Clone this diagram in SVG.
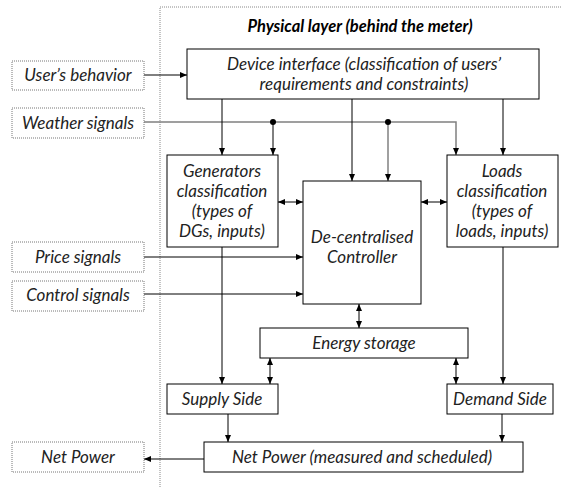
<svg xmlns="http://www.w3.org/2000/svg" width="561" height="487" viewBox="0 0 561 487">
<style>
  text { font-family: Lato, "Liberation Sans", sans-serif; font-style: italic; font-size: 17px; fill: #222; text-anchor: middle; }
  .title { font-weight: bold; font-size: 16.5px; fill: #000; }
  .box { fill: #fff; stroke: #000; stroke-width: 1; }
  .ext { fill: #fff; stroke: #777; stroke-width: 1; stroke-dasharray: 1 1; }
  .frame { fill: none; stroke: #888; stroke-width: 1; stroke-dasharray: 1 1; }
  .c { fill: none; stroke: #000; stroke-width: 1; }
  .g { fill: none; stroke: #808080; stroke-width: 1.5; }
</style>
<defs>
  <marker id="ah" markerWidth="8" markerHeight="8" refX="7" refY="4" orient="auto" markerUnits="userSpaceOnUse">
    <path d="M0,1 L7,4 L0,7 Z" fill="#000"/>
  </marker>
  <marker id="as" markerWidth="8" markerHeight="8" refX="0" refY="4" orient="auto" markerUnits="userSpaceOnUse">
    <path d="M7,1 L0,4 L7,7 Z" fill="#000"/>
  </marker>
</defs>
<rect width="561" height="487" fill="#fff"/>
<path class="frame" d="M160,487 V7 H561"/>
<text class="title" x="360" y="32">Physical layer (behind the meter)</text>

<g id="connectors">
  <path class="c" d="M144,75 H187" marker-end="url(#ah)"/>
  <path class="g" d="M144,122 H456 V155" marker-end="url(#ah)"/>
  <path class="c" d="M273,122 V155" marker-end="url(#ah)"/>
  <path class="g" d="M388,122 V181" marker-end="url(#ah)"/>
  <circle cx="273" cy="122" r="3" fill="#000"/>
  <circle cx="388" cy="122" r="3" fill="#000"/>
  <path class="c" d="M222,99 V155" marker-end="url(#ah)"/>
  <path class="c" d="M352,99 V181" marker-end="url(#ah)"/>
  <path class="c" d="M503,99 V155" marker-end="url(#ah)"/>
  <path class="c" d="M278,202 H303" marker-start="url(#as)" marker-end="url(#ah)"/>
  <path class="c" d="M421,202 H447" marker-start="url(#as)" marker-end="url(#ah)"/>
  <path class="c" d="M144,257 H303" marker-end="url(#ah)"/>
  <path class="c" d="M144,294 H303" marker-end="url(#ah)"/>
  <path class="c" d="M222,247 V384" marker-end="url(#ah)"/>
  <path class="c" d="M359,304 V328" marker-start="url(#as)" marker-end="url(#ah)"/>
  <path class="c" d="M270,358 V384" marker-start="url(#as)" marker-end="url(#ah)"/>
  <path class="c" d="M456,358 V384" marker-start="url(#as)" marker-end="url(#ah)"/>
  <path class="c" d="M503,247 V384" marker-end="url(#ah)"/>
  <path class="c" d="M228,414 V442" marker-end="url(#ah)"/>
  <path class="c" d="M502,414 V442" marker-end="url(#ah)"/>
  <path class="c" d="M204,459 H144" marker-end="url(#ah)"/>
</g>

<g id="users-behavior"><rect class="ext" x="12" y="61" width="132" height="29"/><text x="78" y="81">User’s behavior</text></g>
<g id="weather-signals"><rect class="ext" x="12" y="108" width="132" height="30"/><text x="78" y="129">Weather signals</text></g>
<g id="price-signals"><rect class="ext" x="12" y="242" width="132" height="30"/><text x="78" y="263">Price signals</text></g>
<g id="control-signals"><rect class="ext" x="12" y="281" width="132" height="30"/><text x="78" y="301">Control signals</text></g>
<g id="net-power-out"><rect class="ext" x="12" y="442" width="132" height="30"/><text x="78" y="463">Net Power</text></g>

<g id="device-interface"><rect class="box" x="187" y="49" width="352" height="50"/>
  <text x="364" y="70">Device interface (classification of users’</text>
  <text x="364" y="90">requirements and constraints)</text></g>
<g id="generators"><rect class="box" x="167" y="155" width="111" height="92"/>
  <text x="222" y="177">Generators</text><text x="222" y="197">classification</text>
  <text x="222" y="217">(types of</text><text x="222" y="237">DGs, inputs)</text></g>
<g id="controller"><rect class="box" x="303" y="181" width="118" height="123"/>
  <text x="362" y="243">De-centralised</text><text x="362" y="263">Controller</text></g>
<g id="loads"><rect class="box" x="447" y="155" width="111" height="92"/>
  <text x="502" y="177">Loads</text><text x="502" y="197">classification</text>
  <text x="502" y="217">(types of</text><text x="502" y="237">loads, inputs)</text></g>
<g id="energy-storage"><rect class="box" x="260" y="328" width="208" height="30"/><text x="364" y="349">Energy storage</text></g>
<g id="supply-side"><rect class="box" x="167" y="384" width="111" height="30"/><text x="222" y="405">Supply Side</text></g>
<g id="demand-side"><rect class="box" x="447" y="384" width="106" height="30"/><text x="500" y="405">Demand Side</text></g>
<g id="net-power"><rect class="box" x="204" y="442" width="319" height="30"/><text x="362" y="463">Net Power (measured and scheduled)</text></g>
</svg>
